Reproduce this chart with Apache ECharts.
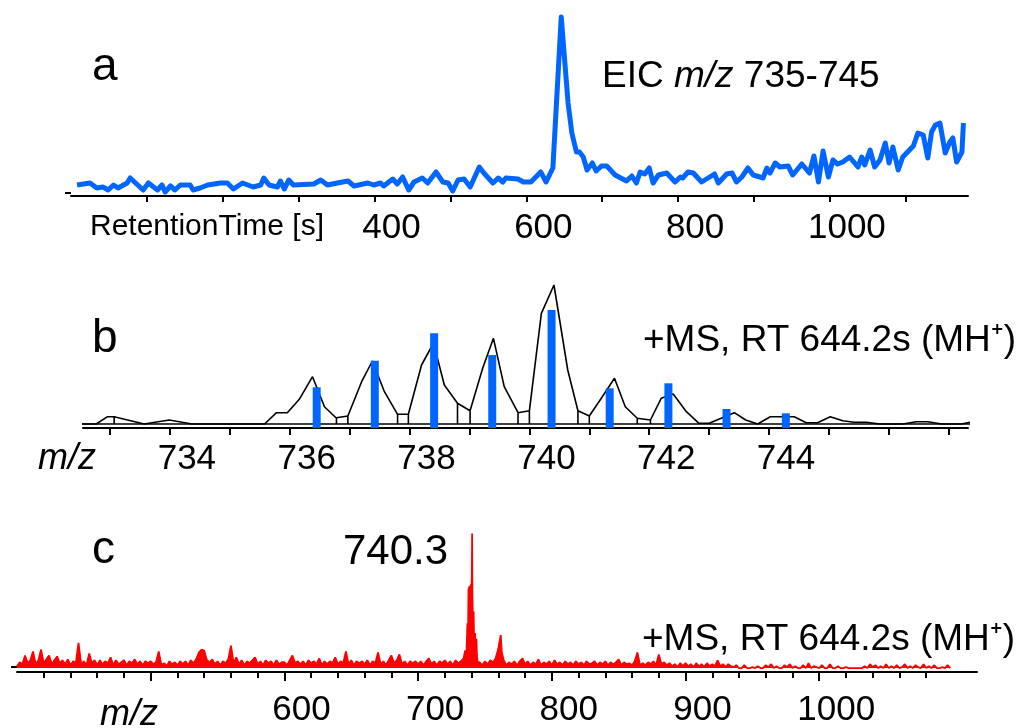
<!DOCTYPE html>
<html>
<head>
<meta charset="utf-8">
<script src="https://cdn.jsdelivr.net/npm/echarts@6/dist/echarts.min.js"></script>
<style>
  html, body { margin: 0; padding: 0; background: #fff; }
  #chart { width: 1023px; height: 728px; }
</style>
</head>
<body>
<div id="chart"></div>
<script>
const FONT = '"Liberation Sans", Arial, sans-serif';

// a: extracted ion chromatogram (retention time [s], intensity)
const eicTime = [8, 25, 34, 42, 49, 56, 62, 74, 78, 95, 102, 114, 120, 124, 131, 137, 144, 157, 161, 170,
  180, 197, 206, 214, 226, 240, 250, 254, 261, 272, 276, 281, 287, 293, 320, 329, 338, 351, 365, 373,
  391, 399, 408, 412, 424, 430, 437, 445, 452, 463, 470, 481, 490, 497, 503, 510, 518, 526, 538, 544,
  556, 563, 569, 573, 589, 596, 606, 619, 626, 635, 646, 655, 660, 666, 670, 675, 680, 687, 692, 699,
  706, 717, 732, 739, 745, 750, 756, 762, 767, 774, 785, 796, 803, 806, 813, 820, 831, 848, 853, 864,
  871, 877, 884, 892, 899, 912, 917, 921, 928, 934, 945, 951, 963, 973, 979, 985, 991, 998, 1004, 1010,
  1017, 1026, 1037, 1042, 1046, 1053, 1059, 1066, 1073, 1078, 1083, 1090, 1096, 1110, 1116, 1123, 1129, 1134, 1139, 1145,
  1152, 1158, 1162, 1167, 1174, 1176];
const eicInt = [11, 13, 8, 9, 6, 11, 8, 13, 18, 6, 13, 6, 11, 4, 10, 6, 11, 11, 6, 8,
  11, 13, 13, 7, 13, 9, 11, 18, 11, 9, 15, 7, 16, 11, 12, 16, 11, 13, 15, 10,
  13, 11, 13, 10, 17, 12, 19, 6, 14, 18, 13, 24, 14, 13, 5, 16, 17, 9, 29, 23,
  13, 18, 14, 18, 17, 14, 14, 24, 14, 28, 179, 93, 63, 44, 44, 39, 26, 33, 25, 30,
  30, 21, 15, 20, 13, 24, 22, 28, 13, 21, 23, 14, 19, 18, 24, 23, 14, 22, 13, 22,
  23, 14, 19, 28, 21, 18, 28, 23, 33, 29, 30, 21, 32, 23, 40, 14, 45, 19, 36, 32,
  34, 39, 29, 39, 31, 46, 29, 36, 53, 33, 49, 26, 39, 50, 63, 61, 38, 64, 71, 73,
  43, 54, 58, 34, 44, 73];
const eicTicks = [100, 200, 300, 400, 500, 600, 700, 800, 900, 1000, 1100];
const eicLabels = [400, 600, 800, 1000];

// b: profile spectrum (m/z, intensity) and isotope sticks
const profMz = [732.35, 732.77, 732.96, 733.07, 733.07, 733.07, 733.57, 733.99, 734.37, 735.58,
  735.78, 735.96, 736.16, 736.38, 736.58, 736.78, 736.78, 736.78, 736.97, 736.97,
  736.97, 737.2, 737.38, 737.58, 737.8, 737.8, 737.8, 737.98, 737.98, 737.98,
  738.2, 738.4, 738.58, 738.8, 738.8, 738.8, 739.01, 739.01, 739.01, 739.22,
  739.4, 739.58, 739.81, 739.81, 739.81, 740.0, 740.0, 740.0, 740.2, 740.41,
  740.64, 740.81, 740.81, 740.81, 741.0, 741.0, 741.0, 741.2, 741.42, 741.6,
  741.8, 741.8, 741.8, 742.02, 742.02, 742.02, 742.2, 742.4, 742.62, 742.83,
  743.0, 743.2, 743.42, 743.61, 743.81, 744.02, 744.23, 744.42, 744.62, 744.81,
  745.02, 745.23, 745.42, 745.62, 745.85, 746.23, 746.46, 746.65, 746.88, 747.21,
  747.4];
const profInt = [4, 4, 11.3, 11.3, 4, 11.3, 4, 8, 4, 4,
  15.3, 15.3, 28.7, 51.3, 21.3, 9.7, 4, 10.3, 12, 4,
  12, 46.3, 67, 36.3, 13.7, 4, 13.7, 13.7, 4, 13.7,
  63, 85, 43, 24.7, 4, 24.7, 17.3, 4, 17.3, 59.7,
  89.7, 41.3, 15.3, 4, 15.3, 17.3, 4, 17.3, 114.7, 143,
  58, 17.3, 4, 17.3, 12, 4, 12, 29.7, 49.7, 21.3,
  9.7, 4, 9.7, 8, 4, 8, 29.7, 34, 16.3, 4.7,
  4.7, 9.7, 15.3, 8, 4, 11.3, 11.3, 11.3, 5.3, 5.3,
  11.3, 7.3, 5.7, 5.7, 4, 4, 6.3, 6.3, 4, 4,
  6.3];
const profBaseMz = [732.35, 747.4];
const profBaseInt = [4, 4];
const stickMz = [736.45, 737.42, 738.41, 739.38, 740.37, 741.34, 742.32, 743.29, 744.28];
const stickInt = [40.7, 67.3, 94.7, 73, 118, 39.7, 44.7, 19, 14.7];
const profTicks = [733, 734, 735, 736, 737, 738, 739, 740, 741, 742, 743, 744, 745, 746, 747];
const profLabels = [734, 736, 738, 740, 742, 744];

// c: full scan spectrum, sampled every 2 m/z from 400, plus the peak region
const msStart = 400;
const msStep = 2;
const msInt = [
  6, 10, 8, 17, 9, 12, 21, 8, 12, 23,
  9, 13, 17, 8, 12, 16, 9, 12, 8, 13,
  7, 11, 9, 30, 8, 11, 7, 19, 9, 12,
  7, 12, 8, 11, 9, 15, 7, 12, 8, 10,
  12, 7, 11, 9, 13, 8, 11, 7, 11, 9,
  11, 8, 10, 21, 7, 9, 6, 11, 8, 10,
  7, 11, 8, 11, 7, 12, 9, 13, 20, 23,
  22, 12, 10, 13, 8, 11, 7, 11, 9, 13,
  27, 9, 15, 8, 12, 7, 11, 9, 12, 15,
  8, 11, 7, 12, 9, 11, 7, 12, 8, 10,
  10, 7, 12, 17, 9, 11, 8, 11, 7, 12,
  9, 11, 8, 14, 7, 11, 8, 11, 9, 15,
  8, 11, 9, 21, 8, 12, 7, 11, 9, 11,
  8, 12, 7, 11, 9, 20, 8, 11, 7, 12,
  17, 9, 12, 18, 8, 11, 7, 11, 9, 11,
  8, 11, 7, 11, 14, 8, 11, 7, 11, 9,
  12, 8, 11, 7, 12, 9, 11, 14, 13, 87,
  90, 34, 17, 10, 7, 11, 8, 12, 10, 14,
  24, 38, 12, 7, 10, 8, 11, 7, 11, 14,
  8, 11, 7, 10, 8, 13, 7, 10, 8, 11,
  7, 12, 8, 10, 7, 11, 8, 10, 7, 11,
  8, 10, 7, 11, 8, 9, 11, 7, 10, 8,
  11, 7, 10, 8, 10, 13, 7, 10, 8, 9,
  7, 11, 20, 7, 9, 7, 10, 8, 11, 7,
  18, 8, 10, 7, 9, 6, 8, 5, 9, 6,
  9, 6, 8, 5, 9, 6, 8, 5, 9, 6,
  8, 6, 12, 6, 8, 5, 8, 6, 5, 7,
  4, 4, 7, 4, 4, 5, 4, 6, 4, 4,
  7, 5, 8, 4, 6, 4, 4, 7, 5, 8,
  4, 6, 4, 4, 7, 4, 9, 4, 6, 5,
  4, 7, 4, 4, 8, 4, 4, 6, 4, 4,
  5, 4, 4, 4, 4, 4, 4, 6, 4, 8,
  5, 7, 4, 6, 4, 8, 4, 6, 4, 7,
  4, 5, 8, 4, 6, 4, 7, 5, 4, 8,
  4, 6, 4, 7, 4, 4, 5, 4, 7, 4];
const peakMz = [735.2, 736.6, 736.9, 737.3, 737.7, 738.5, 738.9, 739.3, 739.7, 740.2, 740.4, 740.6,
  741.0, 741.5, 741.9, 742.6, 743.2, 743.6, 744.5, 761.0, 761.8, 762.6];
const peakInt = [22, 12, 50, 30, 85, 88, 60, 90, 70, 100, 142, 80,
  50, 62, 30, 40, 20, 34, 10, 26, 38, 20];
const msBase = 4;
const msMajorTicks = [500, 600, 700, 800, 900, 1000];
const msMinorTicks = [420, 440, 460, 480, 520, 540, 560, 580, 620, 640, 660, 680, 720, 740, 760, 780,
  820, 840, 860, 880, 920, 940, 960, 980, 1020, 1040, 1060, 1080];
const msLabels = [600, 700, 800, 900, 1000];

const pairs = (xs, ys) => xs.map((x, i) => [x, ys[i]]);
const msData = msInt.map((v, i) => [msStart + i * msStep, v])
  .concat(pairs(peakMz, peakInt))
  .sort((p, q) => p[0] - q[0]);

const black = '#000';
const blue = '#0066ff';
const red = '#ff0000';

function bottomAxis(grid, min, max, ticks, labels, margin, tickLen) {
  return {
    type: 'value', gridIndex: grid, position: 'bottom', min: min, max: max,
    axisLine: { show: true, onZero: false, lineStyle: { color: black, width: 2 } },
    axisTick: { show: true, customValues: ticks, length: tickLen, lineStyle: { color: black, width: 2 } },
    axisLabel: {
      show: true, customValues: labels, color: black, fontFamily: FONT, fontSize: 35,
      margin: margin, padding: [0, 0, 0, 34],
      formatter: v => String(v)
    },
    splitLine: { show: false }
  };
}

function sideAxis(grid, max, tickAt) {
  return {
    type: 'value', gridIndex: grid, min: 0, max: max,
    axisLine: { show: false },
    axisTick: tickAt == null ? { show: false }
      : { show: true, customValues: [tickAt], length: 6, lineStyle: { color: black, width: 2 } },
    axisLabel: { show: false },
    splitLine: { show: false }
  };
}

function label(text, x, y, size, extra) {
  return {
    type: 'text', x: x, y: y,
    style: Object.assign({
      text: text, fill: black, fontFamily: FONT, fontSize: size,
      align: 'left', verticalAlign: 'middle'
    }, extra || {})
  };
}

const chart = echarts.init(document.getElementById('chart'), null, { renderer: 'canvas' });

chart.setOption({
  backgroundColor: '#fff',
  animation: false,
  grid: [
    { left: 71, top: 0, width: 897, height: 196 },
    { left: 83, top: 228, width: 885, height: 200 },
    { left: 17, top: 477, width: 960, height: 200 }
  ],
  xAxis: [
    bottomAxis(0, 0, 1182, eicTicks, eicLabels, 15, 6),
    bottomAxis(1, 732.55, 747.32, profTicks, profLabels, 14, 7),
    bottomAxis(2, 400, 1118, msMajorTicks, msLabels, 21, 9),
    {
      type: 'value', gridIndex: 2, position: 'bottom', min: 400, max: 1118,
      axisLine: { show: false },
      axisTick: { show: true, customValues: msMinorTicks, length: 6, lineStyle: { color: black, width: 2 } },
      axisLabel: { show: false },
      splitLine: { show: false }
    }
  ],
  yAxis: [
    sideAxis(0, 196, 3),
    sideAxis(1, 200, null),
    sideAxis(2, 200, 5)
  ],
  series: [
    {
      type: 'line', xAxisIndex: 0, yAxisIndex: 0, data: pairs(eicTime, eicInt),
      showSymbol: false, symbol: 'none',
      lineStyle: { color: blue, width: 5, join: 'round' }, z: 2
    },
    {
      type: 'line', xAxisIndex: 1, yAxisIndex: 1, data: pairs(profBaseMz, profBaseInt),
      showSymbol: false, symbol: 'none', clip: false,
      lineStyle: { color: black, width: 1.6 }, z: 2
    },
    {
      type: 'line', xAxisIndex: 1, yAxisIndex: 1, data: pairs(profMz, profInt),
      showSymbol: false, symbol: 'none', clip: false,
      lineStyle: { color: black, width: 1.6 }, z: 2
    },
    {
      type: 'bar', xAxisIndex: 1, yAxisIndex: 1, data: pairs(stickMz, stickInt),
      barWidth: 8, itemStyle: { color: blue }, z: 3
    },
    {
      type: 'line', xAxisIndex: 2, yAxisIndex: 2, data: msData,
      showSymbol: false, symbol: 'none',
      lineStyle: { color: red, width: 1.8 },
      areaStyle: { color: red, opacity: 1, origin: msBase }, z: 2
    }
  ],
  graphic: [
    label('a', 92, 67, 46),
    label('EIC {i|m/z} 735-745', 602, 77, 37, {
      rich: { i: { fontStyle: 'italic', fontFamily: FONT, fontSize: 37, fill: black } }
    }),
    label('RetentionTime [s]', 90, 227, 30),
    label('b', 92, 339, 46),
    label('+MS, RT 644.2s (MH\u207A)', 643, 341, 37),
    label('m/z', 38, 459, 36, { fontStyle: 'italic' }),
    label('c', 92, 550, 46),
    label('740.3', 343, 552, 42),
    label('+MS, RT 644.2s (MH\u207A)', 642, 640, 37),
    label('m/z', 100, 715, 36, { fontStyle: 'italic' })
  ]
});
</script>
</body>
</html>
